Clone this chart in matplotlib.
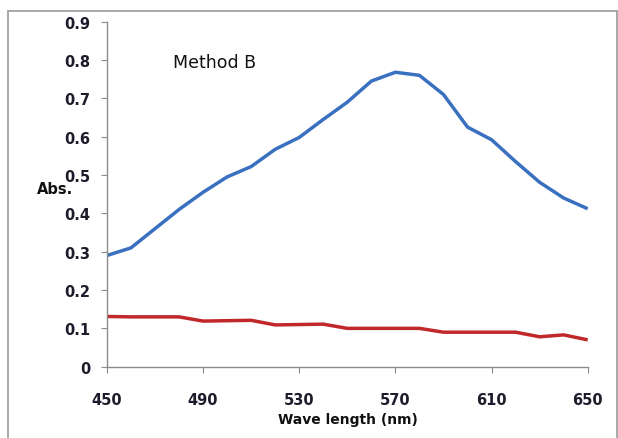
import matplotlib.pyplot as plt
from matplotlib.patches import Rectangle

wavelength = [450, 460, 470, 480, 490, 500, 510, 520, 530, 540, 550,
              560, 570, 580, 590, 600, 610, 620, 630, 640, 650]
absSample = [0.29, 0.31, 0.36, 0.41, 0.455, 0.495, 0.522, 0.567, 0.598, 0.645, 0.69,
             0.745, 0.768, 0.76, 0.71, 0.625, 0.592, 0.535, 0.481, 0.44, 0.412]
absBlank = [0.131, 0.13, 0.13, 0.13, 0.119, 0.12, 0.121, 0.109, 0.11, 0.111, 0.10,
            0.10, 0.10, 0.10, 0.09, 0.09, 0.09, 0.09, 0.078, 0.083, 0.07]
xTicks = [450, 490, 530, 570, 610, 650]
yTicks = [0, 0.1, 0.2, 0.3, 0.4, 0.5, 0.6, 0.7, 0.8, 0.9]
yTickLabels = ['0', '0.1', '0.2', '0.3', '0.4', '0.5', '0.6', '0.7', '0.8', '0.9']

fig = plt.figure(figsize=(6.18, 4.39), dpi=100)
ax = fig.add_axes([0.173, 0.1624, 0.778, 0.786])

# outer chart border
fig.patches.append(Rectangle((8/618, -0.02), 609/618, 1.02 - 12/439,
                             transform=fig.transFigure, fill=False,
                             edgecolor='#999999', linewidth=1.2))

ax.plot(wavelength, absSample, color='#3a70c0', linewidth=2.5,
        solid_joinstyle='round', solid_capstyle='butt')
ax.plot(wavelength, absBlank, color='#c0282c', linewidth=2.5,
        solid_joinstyle='round', solid_capstyle='butt')

ax.set_xlim(450, 650)
ax.set_ylim(0, 0.9)
ax.set_xticks(xTicks)
ax.set_yticks(yTicks)
ax.set_yticklabels(yTickLabels)

for side in ['top', 'right']:
    ax.spines[side].set_visible(False)
for side in ['left', 'bottom']:
    ax.spines[side].set_color('#8c8c8c')
    ax.spines[side].set_linewidth(1.0)

ax.tick_params(axis='both', direction='out', length=4, color='#8c8c8c',
               labelsize=10.5, labelcolor='#1c1c2c')
ax.tick_params(axis='x', pad=14)
ax.tick_params(axis='y', pad=8)
for lbl in ax.get_xticklabels() + ax.get_yticklabels():
    lbl.set_fontweight('semibold')

fig.text(215/618, 1 - 63/439, 'Method B', ha='center', va='center',
         fontsize=12.5, color='#111111')
fig.text(55/618, 1 - 190/439, 'Abs.', ha='center', va='center',
         fontsize=10.5, fontweight='semibold', color='#111111')
fig.text(348/618, 1 - 420/439, 'Wave length (nm)', ha='center', va='center',
         fontsize=10, fontweight='bold', color='#111111')

fig.savefig('out.png', dpi=100)
